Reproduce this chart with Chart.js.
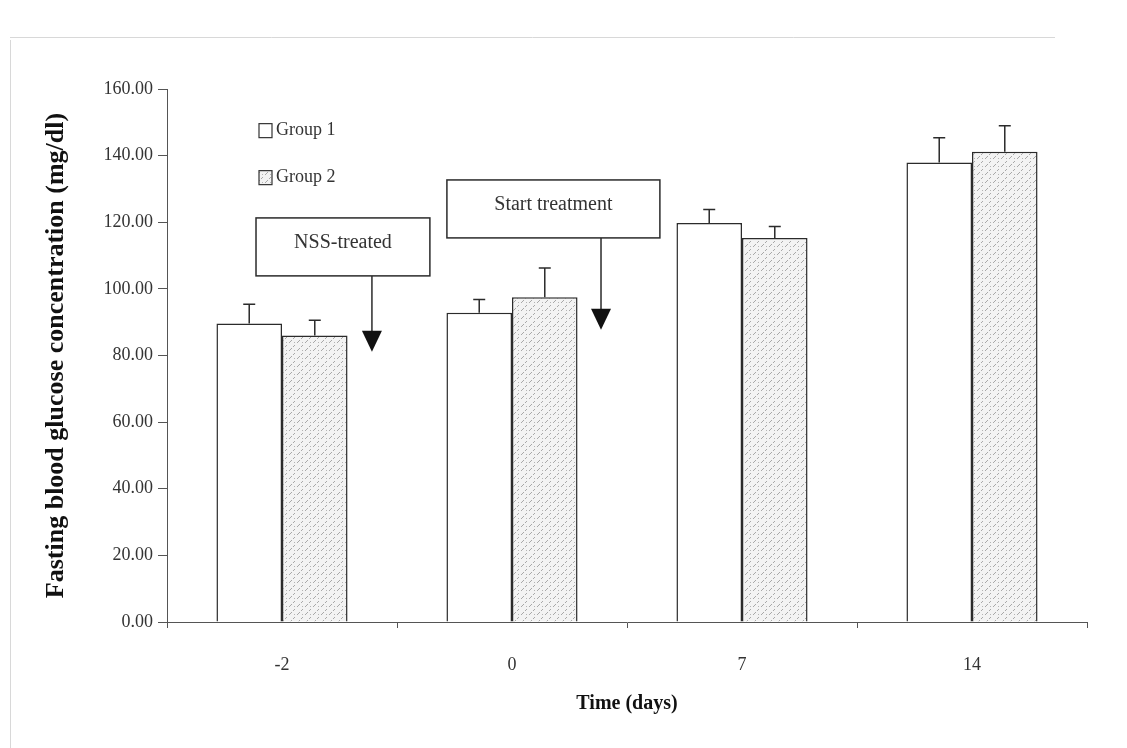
<!DOCTYPE html>
<html>
<head>
<meta charset="utf-8">
<script src="https://cdn.jsdelivr.net/npm/chart.js@4.4.1/dist/chart.umd.min.js"></script>
<style>
  html, body { margin: 0; padding: 0; background: #fff; }
  #wrap { width: 1127px; height: 748px; position: relative; }
</style>
</head>
<body>
<div id="wrap"><canvas id="mainChart" width="1127" height="748"></canvas></div>
<script>
// data
const days = ['-2', '0', '7', '14'];
const group1 = [89.6, 92.8, 119.8, 137.9];
const group2 = [86.0, 97.5, 115.3, 141.2];
const group1Err = [5.8, 4.0, 4.0, 7.5];
const group2Err = [4.6, 8.8, 3.4, 7.8];
const yTicks = [0, 20, 40, 60, 80, 100, 120, 140, 160];

// annotation boxes (x in category units, y in mg/dl)
const notes = [
    { text: 'NSS-treated', x0: -0.113, x1: 0.643, yTop: 121.3, yBot: 103.9, arrowX: 0.391, tip: 81.1 },
    { text: 'Start treatment', x0: 0.717, x1: 1.643, yTop: 132.7, yBot: 115.3, arrowX: 1.387, tip: 87.7 }
];

const ink = '#2b2b2b';
const serif = '"Liberation Serif", "DejaVu Serif", serif';

// dotted/hatched fill for group 2
function makePattern() {
    const c = document.createElement('canvas');
    c.width = 8; c.height = 8;
    const g = c.getContext('2d');
    g.fillStyle = '#f3f3f3';
    g.fillRect(0, 0, 8, 8);
    g.strokeStyle = '#a8a8a8';
    g.lineWidth = 1;
    g.beginPath();
    g.moveTo(1, 7); g.lineTo(4, 4);
    g.moveTo(5, 3); g.lineTo(7, 1);
    g.stroke();
    g.fillStyle = '#b5b5b5';
    g.fillRect(6, 6, 1, 1);
    return g.createPattern(c, 'repeat');
}

// error bars on top of each bar
const errorBars = {
    id: 'errorBars',
    afterDatasetsDraw(chart) {
        const ctx = chart.ctx;
        const y = chart.scales.y;
        const errs = [group1Err, group2Err];
        ctx.save();
        ctx.strokeStyle = ink;
        ctx.lineWidth = 1.5;
        chart.data.datasets.forEach((ds, di) => {
            const meta = chart.getDatasetMeta(di);
            meta.data.forEach((bar, i) => {
                const top = y.getPixelForValue(ds.data[i] + errs[di][i]);
                ctx.beginPath();
                ctx.moveTo(bar.x, bar.y);
                ctx.lineTo(bar.x, top);
                ctx.moveTo(bar.x - 6, top);
                ctx.lineTo(bar.x + 6, top);
                ctx.stroke();
            });
        });
        ctx.restore();
    }
};

// boxes with arrows, legend, faint scan frame
const extras = {
    id: 'extras',
    afterDraw(chart) {
        const ctx = chart.ctx;
        const xs = chart.scales.x, ys = chart.scales.y;
        ctx.save();

        // faint frame from the scan
        ctx.strokeStyle = '#d8d8d8';
        ctx.lineWidth = 1;
        ctx.beginPath();
        ctx.moveTo(10.5, 40); ctx.lineTo(10.5, 748);
        ctx.moveTo(10, 37.5); ctx.lineTo(1055, 37.5);
        ctx.stroke();

        notes.forEach(n => {
            const l = xs.getPixelForValue(n.x0), r = xs.getPixelForValue(n.x1);
            const t = ys.getPixelForValue(n.yTop), b = ys.getPixelForValue(n.yBot);
            const ax = xs.getPixelForValue(n.arrowX), tip = ys.getPixelForValue(n.tip);
            ctx.fillStyle = '#fff';
            ctx.fillRect(l, t, r - l, b - t);
            ctx.strokeStyle = ink;
            ctx.lineWidth = 1.5;
            ctx.strokeRect(l, t, r - l, b - t);
            ctx.fillStyle = '#333';
            ctx.font = '20px ' + serif;
            ctx.textAlign = 'center';
            ctx.textBaseline = 'middle';
            ctx.fillText(n.text, (l + r) / 2, (t + b) / 2 - 4);
            // arrow
            ctx.beginPath();
            ctx.moveTo(ax, b);
            ctx.lineTo(ax, tip - 20);
            ctx.stroke();
            ctx.fillStyle = '#111';
            ctx.beginPath();
            ctx.moveTo(ax - 10, tip - 21);
            ctx.lineTo(ax + 10, tip - 21);
            ctx.lineTo(ax, tip);
            ctx.closePath();
            ctx.fill();
        });

        // legend
        const lx = xs.getPixelForValue(-0.1), ly = ys.getPixelForValue(147.5);
        chart.data.datasets.forEach((ds, i) => {
            const yy = ly + i * 47;
            ctx.fillStyle = ds.backgroundColor;
            ctx.fillRect(lx, yy - 7, 13, 14);
            ctx.strokeStyle = '#333';
            ctx.lineWidth = 1.2;
            ctx.strokeRect(lx, yy - 7, 13, 14);
            ctx.fillStyle = '#333';
            ctx.font = '18px ' + serif;
            ctx.textAlign = 'left';
            ctx.textBaseline = 'middle';
            ctx.fillText(ds.label, lx + 17, yy);
        });
        ctx.restore();
    }
};

const ctx = document.getElementById('mainChart').getContext('2d');
new Chart(ctx, {
    type: 'bar',
    data: {
        labels: days,
        datasets: [
            { label: 'Group 1', data: group1, backgroundColor: '#ffffff', borderColor: ink, borderWidth: 1.5 },
            { label: 'Group 2', data: group2, backgroundColor: makePattern(), borderColor: ink, borderWidth: 1.5 }
        ]
    },
    options: {
        responsive: false,
        animation: false,
        devicePixelRatio: 1,
        layout: { padding: { left: 38, top: 89, right: 40, bottom: 28 } },
        datasets: { bar: { categoryPercentage: 0.57, barPercentage: 1.0 } },
        plugins: { legend: { display: false }, tooltip: { enabled: false } },
        scales: {
            x: {
                grid: { display: true, offset: true, drawOnChartArea: false, tickLength: 6, color: '#555' },
                border: { color: '#555', width: 1 },
                ticks: { color: '#333', font: { family: serif, size: 18 }, padding: 26 },
                title: { display: true, text: 'Time (days)', color: '#111', font: { family: serif, size: 20, weight: 'bold' }, padding: { top: 0 } },
                afterFit(scale) { scale.height = 98; }
            },
            y: {
                min: 0, max: 160,
                afterBuildTicks(scale) { scale.ticks = yTicks.map(v => ({ value: v })); },
                grid: { display: true, drawOnChartArea: false, tickLength: 9, color: '#555' },
                border: { color: '#555', width: 1 },
                ticks: { color: '#333', font: { family: serif, size: 18 }, padding: 5, callback: v => v.toFixed(2) },
                title: { display: true, text: 'Fasting blood glucose concentration (mg/dl)', color: '#111', font: { family: serif, size: 26, weight: 'bold' }, padding: 3 },
                afterFit(scale) { scale.width = 129; }
            }
        }
    },
    plugins: [errorBars, extras]
});
</script>
</body>
</html>
